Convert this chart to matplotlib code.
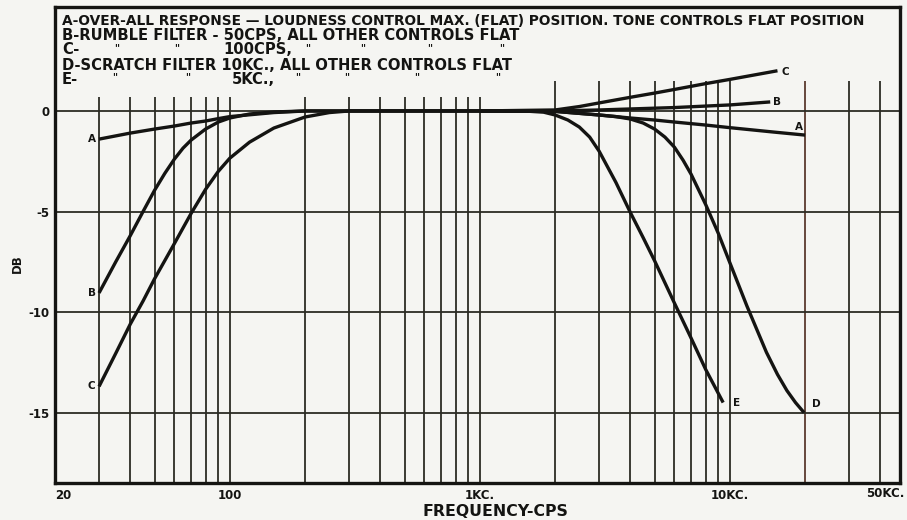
import matplotlib
matplotlib.use("Agg")
import matplotlib.pyplot as plt

# Frequency response curves of the amplifier (frequency in cps, level in dB)
freq_a = [30, 40, 50, 60, 70, 80, 90, 100, 150, 200, 500, 1000, 2000,
          3000, 4000, 5000, 6000, 8000, 10000, 15000, 20000]
db_a = [-1.4, -1.1, -0.9, -0.75, -0.6, -0.5, -0.38, -0.28, -0.08, 0, 0, 0, -0.02,
        -0.2, -0.35, -0.45, -0.55, -0.7, -0.83, -1.05, -1.2]

freq_b = [30, 35, 40, 45, 50, 55, 60, 65, 70, 80, 90, 100, 120, 150, 200, 1000, 2000,
          3000, 4000, 6000, 10000, 14500]
db_b = [-9.05, -7.5, -6.2, -5.0, -3.95, -3.1, -2.4, -1.85, -1.45, -0.9, -0.55, -0.35, -0.15,
        -0.05, 0, 0, 0, 0.05, 0.1, 0.17, 0.3, 0.45]

freq_c = [30, 35, 40, 45, 50, 60, 70, 80, 90, 100, 120, 150, 200, 250, 300, 1000, 2000,
          2500, 3000, 4000, 5000, 6000, 8000, 10000, 15500]
db_c = [-13.7, -12.05, -10.6, -9.45, -8.35, -6.6, -5.1, -3.9, -3.0, -2.35, -1.55, -0.85, -0.3,
        -0.08, 0, 0, 0.05, 0.22, 0.4, 0.68, 0.89, 1.07, 1.36, 1.57, 2.0]

freq_d = [1000, 2000, 3000, 3500, 4000, 4500, 5000, 5500, 6000, 6500, 7000, 8000,
          9000, 10000, 11700, 14000, 15500, 16900, 18300, 19800]
db_d = [0, -0.02, -0.2, -0.28, -0.4, -0.6, -0.9, -1.3, -1.8, -2.45, -3.15, -4.65,
        -6.1, -7.55, -9.7, -12.0, -13.1, -13.9, -14.5, -15.0]

freq_e = [1000, 1500, 1800, 2000, 2250, 2500, 2750, 3000, 3500, 4000, 4500, 5000,
          6000, 7000, 8000, 9400]
db_e = [0, 0, -0.06, -0.2, -0.45, -0.8, -1.3, -2.0, -3.55, -5.05, -6.3, -7.45,
        -9.55, -11.3, -12.85, -14.5]

grid_freqs = [30, 40, 50, 60, 70, 80, 90, 100, 200, 300, 400, 500, 600, 700, 800, 900,
              1000, 2000, 3000, 4000, 5000, 6000, 7000, 8000, 9000, 10000,
              20000, 30000, 40000]
grid_db = [0, -5, -10, -15]

x_ticks = [20, 100, 1000, 10000]
x_labels = ["20", "100", "1KC.", "10KC."]
y_ticks = [0, -5, -10, -15]
y_labels = ["0", "-5", "-10", "-15"]

legend_rows = [
    "A-OVER-ALL RESPONSE \u2014 LOUDNESS CONTROL MAX. (FLAT) POSITION. TONE CONTROLS FLAT POSITION",
    "B-RUMBLE FILTER - 50CPS, ALL OTHER CONTROLS FLAT",
    "C-",
    "D-SCRATCH FILTER 10KC., ALL OTHER CONTROLS FLAT",
    "E-",
]

W, H = 907, 520
paper = "#f5f5f2"
ink = "#141412"
rule = "#2c2c24"

fig = plt.figure(figsize=(W / 100, H / 100), dpi=100, facecolor=paper)
ax = fig.add_axes([55 / W, 37 / H, 845 / W, 476 / H], facecolor=paper)
ax.set_xscale("log")
x_min, x_max = 20, 47900
y_min, y_max = -18.5, 5.17
ax.set_xlim(x_min, x_max)
ax.set_ylim(y_min, y_max)

# chart paper rulings
for f in grid_freqs:
    top = 0.7 if f <= 1000 else 1.5
    col = "#5a3a2e" if f == 20000 else rule
    ax.vlines(f, y_min, top, color=col, lw=1.3, zorder=1)
ax.hlines(grid_db, x_min, x_max, color=rule, lw=1.3, zorder=1)

# response curves
curves = [(freq_a, db_a), (freq_b, db_b), (freq_c, db_c), (freq_d, db_d), (freq_e, db_e)]
for fx, dy in curves:
    ax.plot(fx, dy, color=ink, lw=2.4, solid_capstyle="butt", solid_joinstyle="round", zorder=3)

lab = dict(fontsize=7.5, fontweight="bold", color=ink, textcoords="offset points")
# left ends
ax.annotate("A", (freq_a[0], db_a[0]), xytext=(-2.5, 0), ha="right", va="center", **lab)
ax.annotate("B", (freq_b[0], db_b[0]), xytext=(-2.5, 0), ha="right", va="center", **lab)
ax.annotate("C", (freq_c[0], db_c[0]), xytext=(-2.5, 0), ha="right", va="center", **lab)
# right ends
ax.annotate("C", (freq_c[-1], db_c[-1]), xytext=(3, -1), ha="left", va="center", **lab)
ax.annotate("B", (freq_b[-1], db_b[-1]), xytext=(2, 0), ha="left", va="center", **lab)
ax.annotate("A", (freq_a[-1], db_a[-1]), xytext=(-1.5, 6), ha="right", va="center", **lab)
ax.annotate("E", (freq_e[-1], db_e[-1]), xytext=(7, -0.5), ha="left", va="center", **lab)
ax.annotate("D", (freq_d[-1], db_d[-1]), xytext=(5.5, 6.5), ha="left", va="center", **lab)

# axes frame and ticks
for s in ax.spines.values():
    s.set_linewidth(2.4)
    s.set_color(ink)
ax.set_xticks(x_ticks)
ax.set_xticklabels(x_labels)
ax.xaxis.set_minor_locator(matplotlib.ticker.NullLocator())
ax.set_yticks(y_ticks)
ax.set_yticklabels(y_labels)
ax.tick_params(length=0, labelsize=8.5, colors=ink, pad=4)
for t in ax.get_xticklabels():
    t.set_fontweight("bold")
ax.get_xticklabels()[0].set_ha("left")
for t in ax.get_yticklabels():
    t.set_fontweight("bold")
ax.text(50000, y_min - 0.2, "50KC.", ha="right", va="top",
        fontsize=8.5, fontweight="bold", color=ink, clip_on=False)

fig.text(495 / W, 1 - 512 / H, "FREQUENCY-CPS", ha="center", va="center",
         fontsize=11.3, fontweight="bold", color=ink)
fig.text(17 / W, 1 - 264 / H, "DB", ha="center", va="center", rotation=90,
         fontsize=8.5, fontweight="bold", color=ink)

# key printed inside the top of the chart
row_y = [21, 35.5, 50, 65, 79.5]
row_size = [9.9, 10.6, 10.6, 10.6, 10.6]
hdr = dict(fontweight="bold", color=ink, va="center", ha="left")
for txt, y, sz in zip(legend_rows, row_y, row_size):
    fig.text(62 / W, 1 - y / H, txt, fontsize=sz, **hdr)
fig.text(223 / W, 1 - row_y[2] / H, "100CPS,", fontsize=10.6, **hdr)
fig.text(232 / W, 1 - row_y[4] / H, "5KC.,", fontsize=10.6, **hdr)
ditto = dict(fontsize=7, fontweight="bold", color=ink, va="center", ha="center")
for x in [117, 177, 308, 363, 430, 502]:
    fig.text(x / W, 1 - (row_y[2] - 2) / H, '"', **ditto)
for x in [115, 188, 298, 347, 417, 498]:
    fig.text(x / W, 1 - (row_y[4] - 2) / H, '"', **ditto)

fig.savefig("out.png", dpi=100, facecolor=paper)
